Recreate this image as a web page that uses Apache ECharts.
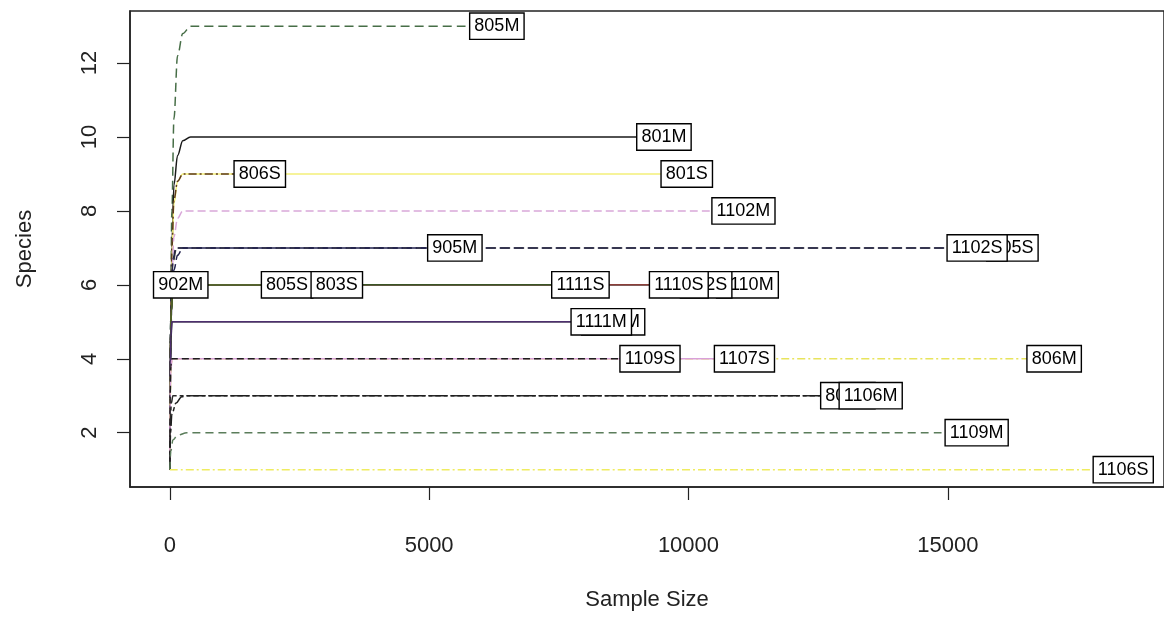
<!DOCTYPE html>
<html><head><meta charset="utf-8">
<script src="https://cdn.jsdelivr.net/npm/echarts@6/dist/echarts.min.js"></script>
<style>html,body{margin:0;padding:0;background:#fff}#c{width:1164px;height:628px}</style>
</head><body><div id="c"></div>
<script>
// axis ticks
const xTicks = [0, 5000, 10000, 15000];
const yTicks = [2, 4, 6, 8, 10, 12];

// rarefaction curves: [sample size, species]
const c805M  = [[1,1],[15,5],[40,8],[80,10.5],[150,12.2],[250,12.8],[400,13],[6306,13]];
const c801M  = [[1,1],[15,4.5],[40,7],[80,8.7],[150,9.5],[250,9.9],[400,10],[9527,10]];
const c806S  = [[1,1],[15,4.5],[40,7],[80,8.3],[150,8.8],[250,9],[1735,9]];
const c801S  = [[1,1],[15,4.2],[40,6.8],[80,8.2],[150,8.8],[250,9],[9967,9]];
const c1102M = [[1,1],[15,4],[40,6.2],[80,7.3],[150,7.8],[250,8],[11060,8]];
const c905M  = [[1,1],[15,4],[40,5.6],[80,6.4],[150,6.8],[250,7],[5496,7]];
const c1102S = [[1,1],[10,4.5],[30,6],[60,6.7],[120,7],[15565,7]];
const c905S  = [[1,1],[10,4.2],[30,5.8],[60,6.6],[130,7],[16245,7]];
const c902M  = [[1,1],[10,4],[30,5.3],[60,5.8],[120,6],[211,6]];
const c805S  = [[1,1],[10,4],[30,5.3],[60,5.8],[120,6],[2262,6]];
const c803S  = [[1,1],[10,4.2],[30,5.4],[60,5.9],[120,6],[3220,6]];
const c1111S = [[1,1],[10,4],[30,5.3],[60,5.8],[120,6],[7917,6]];
const c1110S = [[1,1],[10,4.1],[30,5.4],[60,5.9],[120,6],[9814,6]];
const c902S  = [[1,1],[10,4],[30,5.3],[60,5.8],[120,6],[10341,6]];
const c1110M = [[1,1],[10,4.2],[30,5.5],[60,5.9],[120,6],[11137,6]];
const c1111M = [[1,1],[8,3.5],[20,4.6],[40,5],[8319,5]];
const c1107M = [[1,1],[8,3.4],[20,4.5],[45,5],[8549,5]];
const c1109S = [[1,1],[8,3],[20,3.8],[40,4],[9258,4]];
const c1107S = [[1,1],[8,3],[20,3.7],[45,4],[11079,4]];
const c806M  = [[1,1],[8,2.9],[20,3.7],[45,4],[17050,4]];
const c803M  = [[1,1],[10,2.3],[30,2.8],[60,3],[13073,3]];
const c1106M = [[1,1],[15,2],[40,2.5],[120,2.8],[230,2.97],[350,3],[13513,3]];
const c1109M = [[1,1],[20,1.5],[60,1.8],[150,1.93],[330,2],[15556,2]];
const c1106S = [[1,1],[18382,1]];

// lines, in drawing order (later ones on top): label text, points, colour, dash pattern
const names  = ['805M','801M','801S','806S','1102M','905S','1102S','905M','1110M','902S','1110S','1111S','803S','805S','902M','1107M','1111M','806M','1107S','1109S','803M','1106M','1109M','1106S'];
const curves = [c805M,c801M,c801S,c806S,c1102M,c905S,c1102S,c905M,c1110M,c902S,c1110S,c1111S,c803S,c805S,c902M,c1107M,c1111M,c806M,c1107S,c1109S,c803M,c1106M,c1109M,c1106S];
const colors = ['#476e47','#1a1a1a','#f4f07a','#5c3a1e','#d9a8d9','#3a3a3a','#262648','#22224e','#444444','#555555','#8b3f3a','#3b5526','#4d5b28','#56652e','#4f5f2a','#333333','#4d2f6e','#e8e45c','#d9a0d9','#1e1e1e','#2a2a2a','#1e1e1e','#5b7d5b','#efec60'];
const dashes = [[9,5],'solid','solid',[8,3,2,3],[8,4],[10,4],[10,4],[10,4],'solid','solid','solid','solid','solid','solid','solid','solid','solid',[8,3,2,3],'solid',[7,4],[12,3,4,3],[12,3,4,3],[8,5],[8,3,2,3]];

// label boxes, in drawing order (later ones on top)
const labelOrder = ['805M','801M','806S','801S','1102M','905M','905S','1102S','902M','805S','803S','1111S','1110M','902S','1110S','1107M','1111M','1109S','1107S','806M','803M','1106M','1109M','1106S'];

const series = curves.map((c, i) => ({
  type: 'line', name: names[i], data: c, showSymbol: false, symbol: 'none',
  smooth: 0.35, smoothMonotone: 'x', silent: true,
  lineStyle: { color: colors[i], width: 1.5, type: dashes[i] }, z: 2
}));

series.push({
  type: 'scatter', symbolSize: 0, z: 10, silent: true,
  itemStyle: { opacity: 1 },
  data: labelOrder.map(n => {
    const c = curves[names.indexOf(n)];
    return { value: [c[c.length-1][0], c[c.length-1][1]], name: n };
  }),
  label: {
    show: true, position: 'inside', formatter: p => p.name,
    fontFamily: 'Liberation Sans', fontSize: 18, color: '#000',
    backgroundColor: '#fff', borderColor: '#000', borderWidth: 1.4,
    padding: [4, 4, 3, 4], lineHeight: 18, opacity: 1
  }
});

const chart = echarts.init(document.getElementById('c'), null, { renderer: 'canvas' });
chart.setOption({
  animation: false,
  backgroundColor: '#fff',
  grid: { left: 130, top: 11, width: 1040, height: 476, show: true, borderColor: '#222', borderWidth: 1.5, backgroundColor: 'transparent' },
  xAxis: {
    type: 'value', min: -767, max: 19168,
    name: 'Sample Size', nameLocation: 'middle', nameGap: 102,
    nameTextStyle: { fontFamily: 'Liberation Sans', fontSize: 22, color: '#222' },
    axisLine: { show: true, onZero: false, lineStyle: { color: '#222', width: 1.5 } },
    axisTick: { show: true, inside: false, length: 13, customValues: xTicks, lineStyle: { color: '#222', width: 1.2 } },
    axisLabel: { customValues: xTicks, margin: 48, formatter: v => String(v), fontFamily: 'Liberation Sans', fontSize: 22, color: '#222' },
    splitLine: { show: false }
  },
  yAxis: {
    type: 'value', min: 0.53, max: 13.41,
    name: 'Species', nameLocation: 'middle', nameGap: 94, nameRotate: 90,
    nameTextStyle: { fontFamily: 'Liberation Sans', fontSize: 22, color: '#222' },
    axisLine: { show: true, onZero: false, lineStyle: { color: '#222', width: 1.5 } },
    axisTick: { show: true, inside: false, length: 13, customValues: yTicks, lineStyle: { color: '#222', width: 1.2 } },
    axisLabel: { customValues: yTicks, rotate: 90, margin: 29, formatter: v => String(v), fontFamily: 'Liberation Sans', fontSize: 22, color: '#222' },
    splitLine: { show: false }
  },
  series: series
});
</script></body></html>
